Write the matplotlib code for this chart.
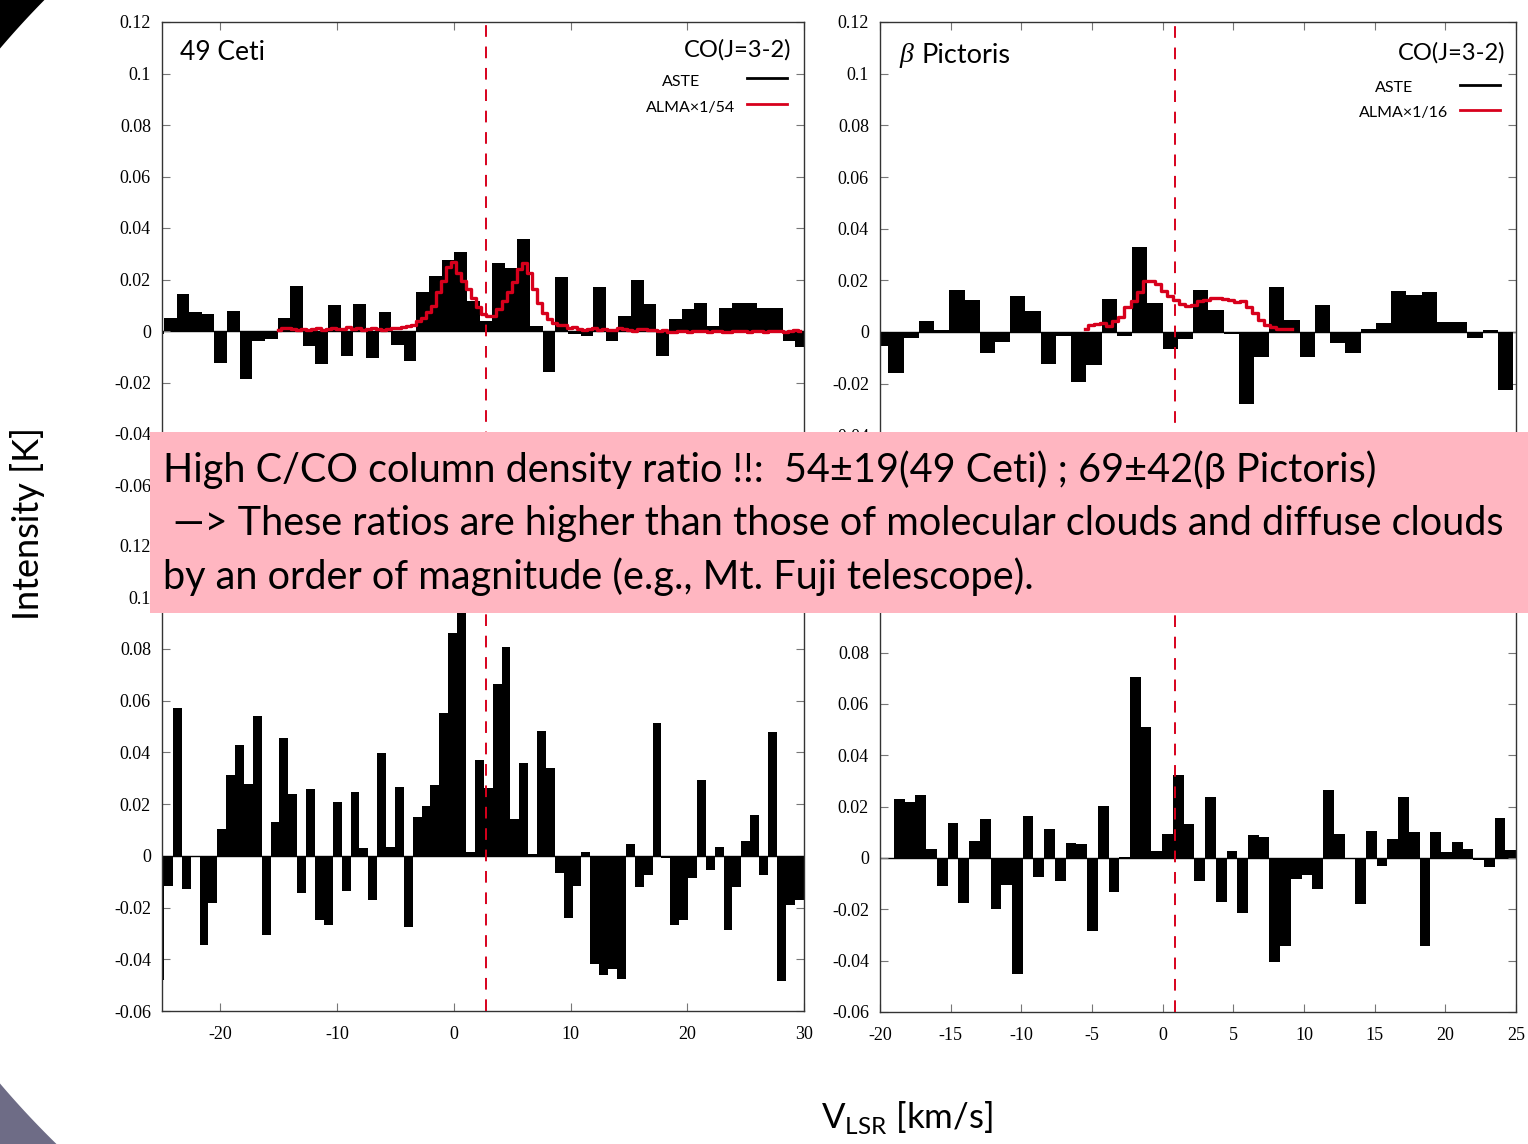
import numpy as np
import matplotlib

matplotlib.use("Agg")
import matplotlib.pyplot as plt
from matplotlib.patches import Rectangle, Polygon
from matplotlib.ticker import FuncFormatter

W, H = 1528, 1144
plt.rcParams["axes.unicode_minus"] = False

# ---- data (K vs km/s) ----
# 49 Ceti, ASTE CO(3-2)
ceti_co_v0, ceti_co_dv = -25.37, 1.0815
ceti_co = [-0.001, 0.005, 0.0142, 0.0073, 0.0067, -0.0124, 0.0076, -0.0186,
           -0.0038, -0.0031, 0.005, 0.0174, -0.0059, -0.0128, 0.0101, -0.0096,
           0.0104, -0.0106, 0.0073, -0.0054, -0.0115, 0.0153, 0.0215, 0.0277,
           0.0306, 0.0118, 0.004, 0.0264, 0.0243, 0.0357, 0.002, -0.016,
           0.0208, -0.001, -0.002, 0.017, -0.004, 0.006, 0.0198, 0.0105,
           -0.0096, 0.0047, 0.0085, 0.011, 0.002, 0.0088, 0.011, 0.0108,
           0.0088, 0.0088, -0.004, -0.0063]
# 49 Ceti, ALMA CO(3-2) x 1/54
ceti_alma_v0, ceti_alma_dv = -15.05, 0.43
ceti_alma = [0.0005, 0.001, 0.0012, 0.0008, 0.0005, 0.0007, 0.0002, 0.0006,
             0.001, 0.0004, 0.0008, 0.0012, 0.0006, 0.0009, 0.0014, 0.0008,
             0.0011, 0.0005, 0.0007, 0.001, 0.0006, 0.0004, 0.0008, 0.0012,
             0.001, 0.0014, 0.002, 0.0024, 0.004, 0.005, 0.0075, 0.0098,
             0.015, 0.0195, 0.0247, 0.0267, 0.0225, 0.0195, 0.0165, 0.013,
             0.0095, 0.0066, 0.0057, 0.006, 0.0085, 0.0115, 0.015, 0.019,
             0.024, 0.0265, 0.0225, 0.0165, 0.011, 0.007, 0.0045, 0.003,
             0.0022, 0.0025, 0.0012, 0.0015, 0.0006, 0.0004, 0.0008, 0.001,
             0.0004, 0.0007, 0.0002, 0.0005, 0.001, 0.0009, 0.0003, 0.0,
             0.0006, 0.0008, 0.0004, 0.0003, 0.0001, 0.0002, -0.0003, -0.0002,
             0.0, 0.0001, -0.0002, 0.0, 0.0001, 0.0, -0.0003, -0.0001,
             0.0, -0.0002, -0.0004, 0.0, -0.0001, 0.0, -0.0002, 0.0,
             -0.0001, -0.0003, 0.0, 0.0001, 0.0, -0.0002, 0.0, 0.0002, 0.0]
# 49 Ceti, ASTE [CI]
ceti_ci_v0, ceti_ci_dv = -25.21, 0.761
ceti_ci = [-0.048, -0.0115, 0.0571, -0.0127, -0.0005, -0.0346, -0.0181, 0.0104,
           0.0313, 0.043, 0.0278, 0.0539, -0.0308, 0.0132, 0.0455, 0.024,
           -0.0143, 0.0257, -0.0247, -0.0269, 0.0208, -0.0135, 0.0248, 0.003,
           -0.017, 0.0399, 0.0036, 0.0265, -0.0275, 0.0152, 0.0193, 0.0274,
           0.0552, 0.086, 0.098, 0.0014, 0.037, 0.0262, 0.0664, 0.0808,
           0.0143, 0.036, 0.0006, 0.0484, 0.034, -0.0067, -0.0239, -0.0117,
           0.0014, -0.0417, -0.0462, -0.0436, -0.0475, 0.0046, -0.0121, -0.0076,
           0.0512, -0.001, -0.0269, -0.025, -0.0086, 0.0292, -0.0053, 0.0033,
           -0.0286, -0.0121, 0.0057, 0.0158, -0.0076, 0.048, -0.0484, -0.0192,
           -0.0169]
# beta Pic, ASTE CO(3-2)
bpic_co_v0, bpic_co_dv = -19.95, 1.078
bpic_co = [-0.0054, -0.016, -0.0025, 0.0043, 0.0008, 0.0163, 0.0123, -0.0083,
           -0.0038, 0.0139, 0.0082, -0.0123, -0.0016, -0.0194, -0.0126, 0.0129,
           -0.0016, 0.033, 0.0114, -0.0066, -0.0028, 0.0163, 0.0085, -0.0008,
           -0.0277, -0.0096, 0.0176, 0.0048, -0.0096, 0.0104, -0.0043, -0.0083,
           0.001, 0.0035, 0.016, 0.0142, 0.0155, 0.0038, 0.0038, -0.0022,
           0.0009, -0.0226]
# beta Pic, ALMA CO(3-2) x 1/16
bpic_alma_v0, bpic_alma_dv = -5.5, 0.43
bpic_alma = [0.0012, 0.0027, 0.003, 0.0036, 0.0024, 0.0043, 0.006, 0.0097,
             0.012, 0.0153, 0.0196, 0.0196, 0.0186, 0.0158, 0.014, 0.0124,
             0.0109, 0.0101, 0.0105, 0.012, 0.0125, 0.013, 0.013, 0.0128,
             0.0123, 0.0118, 0.012, 0.0095, 0.0072, 0.0046, 0.0027, 0.002,
             0.0012, 0.0012, 0.0012]
# beta Pic, ASTE [CI]
bpic_ci_v0, bpic_ci_dv = -18.63, 0.759
bpic_ci = [0.023, 0.0217, 0.0246, 0.0034, -0.0109, 0.0135, -0.0174, 0.0066,
           0.0153, -0.0197, -0.0105, -0.0453, 0.0164, -0.0073, 0.0113, -0.0091,
           0.0057, 0.0053, -0.0285, 0.0204, -0.0133, 0.0005, 0.0707, 0.0512,
           0.0028, 0.0095, 0.0324, 0.0133, -0.0089, 0.0237, -0.0173, 0.0026,
           -0.0216, 0.0091, 0.0082, -0.0406, -0.0341, -0.0082, -0.0068, -0.012,
           0.0265, 0.0095, -0.0004, -0.0181, 0.0105, -0.0032, 0.0074, 0.0238,
           0.0101, -0.0341, 0.0103, 0.0023, 0.0064, 0.0034, -0.0008, -0.0034,
           0.0156, 0.0032]

ceti_vsys = 2.75
bpic_vsys = 0.9

ceti_xticks = [-20, -10, 0, 10, 20, 30]
bpic_xticks = [-20, -15, -10, -5, 0, 5, 10, 15, 20, 25]
yticks = [-0.06, -0.04, -0.02, 0, 0.02, 0.04, 0.06, 0.08, 0.1, 0.12]

SANS = ["Lato", "DejaVu Sans"]
SERIF = "Liberation Serif"
RED = "#d7001c"


def chan(v0, dv, vals):
    return v0 + dv * np.arange(len(vals))


def ylab_maker(hidden=()):
    # labels that sit completely under the pink box are left empty
    def f(v, _):
        if any(abs(v - h) < 1e-9 for h in hidden):
            return ""
        if abs(v) < 1e-9:
            return "0"
        return f"{round(v, 2):g}"
    return FuncFormatter(f)


def px_axes(fig, x0, y0, x1, y1):
    return fig.add_axes([x0 / W, 1 - y1 / H, (x1 - x0) / W, (y1 - y0) / H])


def setup(ax, xlim, xticks, show_x, hidden=()):
    ax.set_xlim(*xlim)
    ax.set_ylim(-0.06, 0.12)
    ax.set_yticks(yticks)
    ax.set_xticks(xticks)
    ax.yaxis.set_major_formatter(ylab_maker(hidden))
    ax.tick_params(direction="in", top=True, right=True, length=6, width=0.8,
                   color="#777777", labelsize=13, labelbottom=show_x)
    ax.tick_params(axis="y", pad=8)
    ax.tick_params(axis="x", pad=11)
    for lab in ax.get_xticklabels() + ax.get_yticklabels():
        lab.set_fontfamily(SERIF)
    for s in ax.spines.values():
        s.set_color("#333333")
        s.set_linewidth(1.0)
    ax.axhline(0, color="black", lw=1.0, zorder=1)


def spectrum(ax, v0, dv, vals):
    ax.bar(chan(v0, dv, vals), vals, width=dv, color="black", linewidth=0,
           zorder=2)


fig = plt.figure(figsize=(W / 100, H / 100), dpi=100)

# ---- top left: 49 Ceti CO ----
ax1 = px_axes(fig, 162, 22, 804, 485.5)
setup(ax1, (-25, 30), ceti_xticks, False)
spectrum(ax1, ceti_co_v0, ceti_co_dv, ceti_co)
ax1.step(chan(ceti_alma_v0, ceti_alma_dv, ceti_alma), ceti_alma, where="mid",
         color=RED, lw=2.4, zorder=3)
ax1.axvline(ceti_vsys, color=RED, lw=1.4, ls=(0, (6, 5)), zorder=4)
ax1.text(0.028, 0.935, "49 Ceti", transform=ax1.transAxes, fontsize=19,
         family=SANS, va="center", ha="left")
ax1.text(0.981, 0.94, "CO(J=3-2)", transform=ax1.transAxes, fontsize=17,
         family=SANS, va="center", ha="right")
ax1.text(0.838, 0.871, "ASTE", transform=ax1.transAxes, fontsize=11.5,
         family=SANS, va="center", ha="right")
ax1.text(0.8925, 0.8145, "ALMA\u00d71/54", transform=ax1.transAxes,
         fontsize=11.5, family=SANS, va="center", ha="right")
ax1.plot([0.911, 0.9735], [0.879, 0.879], transform=ax1.transAxes,
         color="black", lw=2)
ax1.plot([0.911, 0.9735], [0.823, 0.823], transform=ax1.transAxes,
         color=RED, lw=2)

# ---- top right: beta Pic CO ----
ax2 = px_axes(fig, 880, 22, 1516, 487)
setup(ax2, (-20, 25), bpic_xticks, False, hidden=(-0.06,))
spectrum(ax2, bpic_co_v0, bpic_co_dv, bpic_co)
ax2.step(chan(bpic_alma_v0, bpic_alma_dv, bpic_alma), bpic_alma, where="mid",
         color=RED, lw=2.4, zorder=3)
ax2.axvline(bpic_vsys, color=RED, lw=1.4, ls=(0, (6, 5)), zorder=4)
ax2.text(0.031, 0.929, "\u03b2", transform=ax2.transAxes, fontsize=20,
         family="Liberation Serif", style="italic", va="center", ha="left")
ax2.text(0.066, 0.929, "Pictoris", transform=ax2.transAxes, fontsize=19.5,
         family=SANS, va="center", ha="left")
ax2.text(0.983, 0.933, "CO(J=3-2)", transform=ax2.transAxes, fontsize=17,
         family=SANS, va="center", ha="right")
ax2.text(0.838, 0.858, "ASTE", transform=ax2.transAxes, fontsize=11.5,
         family=SANS, va="center", ha="right")
ax2.text(0.893, 0.804, "ALMA\u00d71/16", transform=ax2.transAxes,
         fontsize=11.5, family=SANS, va="center", ha="right")
ax2.plot([0.912, 0.975], [0.8645, 0.8645], transform=ax2.transAxes,
         color="black", lw=2)
ax2.plot([0.912, 0.975], [0.811, 0.811], transform=ax2.transAxes,
         color=RED, lw=2)

# ---- bottom left: 49 Ceti CI ----
ax3 = px_axes(fig, 162, 545.5, 804, 1011)
setup(ax3, (-25, 30), ceti_xticks, True)
spectrum(ax3, ceti_ci_v0, ceti_ci_dv, ceti_ci)
ax3.axvline(ceti_vsys, color=RED, lw=1.4, ls=(0, (6, 5)), zorder=4)

# ---- bottom right: beta Pic CI ----
ax4 = px_axes(fig, 880, 550, 1516, 1012)
setup(ax4, (-20, 25), bpic_xticks, True, hidden=(0.12, 0.1))
spectrum(ax4, bpic_ci_v0, bpic_ci_dv, bpic_ci)
ax4.axvline(bpic_vsys, color=RED, lw=1.4, ls=(0, (6, 5)), zorder=4)

# axis titles
fig.text(28 / W, 1 - 523 / H, "Intensity [K]", rotation=90, fontsize=26,
         family=SANS, ha="center", va="center")
plt.rcParams["mathtext.fontset"] = "custom"
plt.rcParams["mathtext.rm"] = "Lato"
fig.text(907 / W, 1 - 1117 / H, r"V$_\mathrm{LSR}$ [km/s]", fontsize=25,
         family=SANS, ha="center", va="center")

# pink comment box over the middle
fig.add_artist(Rectangle((150 / W, 1 - 613 / H), (W - 150) / W, 181 / H,
                         transform=fig.transFigure, facecolor="#ffb6c1",
                         edgecolor="none", zorder=10))
box_lines = [
    "High C/CO column density ratio !!:  54\u00b119(49 Ceti) ; 69\u00b142(\u03b2 Pictoris)",
    " \u2014> These ratios are higher than those of molecular clouds and diffuse clouds",
    "by an order of magnitude (e.g., Mt. Fuji telescope).",
]
for i, line in enumerate(box_lines):
    fig.text(163 / W, 1 - (470 + 53.5 * i) / H, line, fontsize=28.5,
             family=SANS, ha="left", va="center", zorder=11)


# slide background: a large white ellipse, dark outside it in the corners
def corner(cx, cy, a, b, p0, p1, corner_pt, color):
    t0 = np.arctan2((p0[1] - cy) / b, (p0[0] - cx) / a)
    t1 = np.arctan2((p1[1] - cy) / b, (p1[0] - cx) / a)
    t = np.linspace(t0, t1, 40)
    pts = np.vstack([np.c_[cx + a * np.cos(t), cy + b * np.sin(t)], [corner_pt]])
    fig.add_artist(Polygon(np.c_[pts[:, 0] / W, 1 - pts[:, 1] / H],
                           closed=True, transform=fig.transFigure,
                           facecolor=color, edgecolor="none", zorder=12))


corner(764, 572, 961, 863, (46, 0), (0, 50), (0, 0), "black")
corner(764, 560, 961, 863, (0, 1083), (67, H), (0, H), "#6e6c86")

fig.savefig("out.png", dpi=100)
